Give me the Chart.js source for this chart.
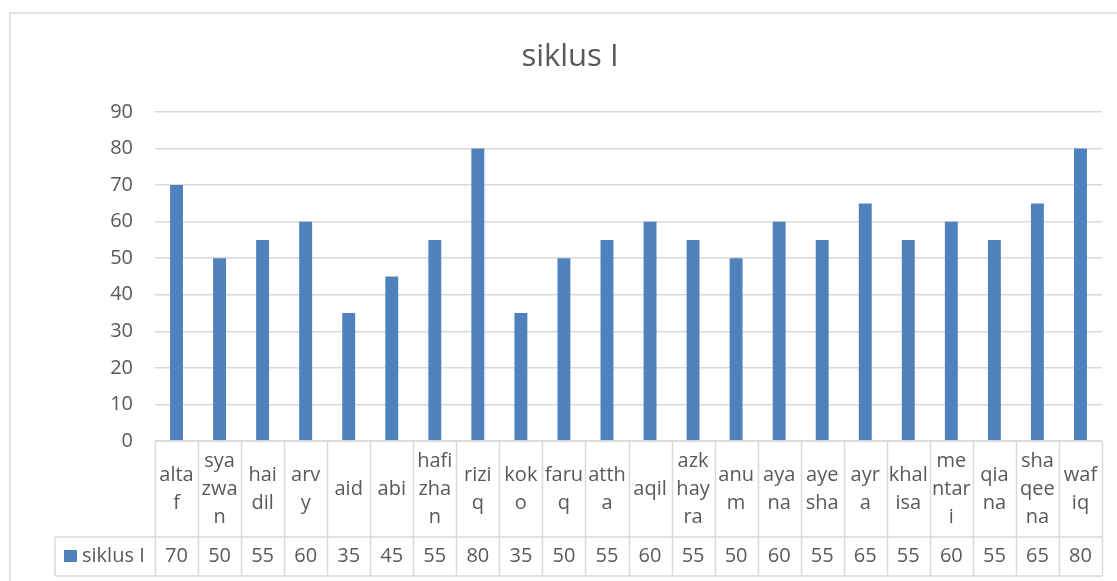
<!DOCTYPE html>
<html>
<head>
<meta charset="utf-8">
<script src="https://cdn.jsdelivr.net/npm/chart.js@4/dist/chart.umd.min.js"></script>
<style>
  html, body { margin: 0; padding: 0; background: #fff; }
  #wrap { width: 1117px; height: 581px; position: relative; }
</style>
</head>
<body>
<div id="wrap"><canvas id="chart"></canvas></div>
<script>
// Data
const names = ['altaf', 'syazwan', 'haidil', 'arvy', 'aid', 'abi', 'hafizhan', 'riziq', 'koko', 'faruq', 'attha',
    'aqil', 'azkhayra', 'anum', 'ayana', 'ayesha', 'ayra', 'khalisa', 'mentari', 'qiana', 'shaqeena', 'wafiq'];
// category labels as wrapped in the data table
const labelLines = [['alta', 'f'], ['sya', 'zwa', 'n'], ['hai', 'dil'], ['arv', 'y'], ['aid'], ['abi'], ['hafi', 'zha', 'n'],
    ['rizi', 'q'], ['kok', 'o'], ['faru', 'q'], ['atth', 'a'], ['aqil'], ['azk', 'hay', 'ra'], ['anu', 'm'], ['aya', 'na'],
    ['aye', 'sha'], ['ayr', 'a'], ['khal', 'isa'], ['me', 'ntar', 'i'], ['qia', 'na'], ['sha', 'qee', 'na'], ['waf', 'iq']];
const seriesName = 'siklus I';
const values = [70, 50, 55, 60, 35, 45, 55, 80, 35, 50, 55, 60, 55, 50, 60, 55, 65, 55, 60, 55, 65, 80];
const yTicks = [0, 10, 20, 30, 40, 50, 60, 70, 80, 90];

const FONT = "'Open Sans', sans-serif";
const TEXT = '#595959';
const LINE = '#d9d9d9';
const BAR = '#4f81bd';

// Draws the chart frame, title and the data table under the plot
const tablePlugin = {
    id: 'dataTable',
    afterDraw(chart) {
        const ctx = chart.ctx;
        const x = chart.scales.x;
        const area = chart.chartArea;
        const n = names.length;
        const step = (x.right - x.left) / n;
        const top = area.bottom;
        const mid = 537;
        const bottom = 576;
        const legendLeft = 55;

        ctx.save();
        // outer chart frame
        ctx.strokeStyle = LINE;
        ctx.lineWidth = 1.5;
        ctx.beginPath();
        ctx.moveTo(10, 600);
        ctx.lineTo(10, 13);
        ctx.lineTo(1200, 13);
        ctx.stroke();

        // title
        ctx.fillStyle = TEXT;
        ctx.font = '31px ' + FONT;
        ctx.textAlign = 'center';
        ctx.textBaseline = 'middle';
        ctx.fillText(seriesName, 570, 57);

        // table grid
        ctx.lineWidth = 1.5;
        ctx.strokeStyle = LINE;
        ctx.beginPath();
        ctx.moveTo(x.left, top); ctx.lineTo(x.right, top);
        ctx.moveTo(legendLeft, mid); ctx.lineTo(x.right, mid);
        ctx.moveTo(legendLeft, bottom); ctx.lineTo(x.right, bottom);
        ctx.moveTo(legendLeft, mid); ctx.lineTo(legendLeft, bottom);
        for (let i = 0; i <= n; i++) {
            const bx = Math.round(x.left + i * step) + 0.5;
            ctx.moveTo(bx, top); ctx.lineTo(bx, bottom);
        }
        ctx.stroke();

        // header labels and values
        ctx.font = '20px ' + FONT;
        ctx.fillStyle = TEXT;
        const lh = 28;
        for (let i = 0; i < n; i++) {
            const cx = x.getPixelForValue(i);
            const lines = labelLines[i];
            const y0 = (top + mid) / 2 - (lines.length - 1) * lh / 2;
            lines.forEach(function(t, j) {
                ctx.fillText(t, cx, y0 + j * lh);
            });
            ctx.fillText(String(values[i]), cx, (mid + bottom) / 2);
        }

        // legend key in the table
        ctx.fillStyle = BAR;
        ctx.fillRect(64, 550, 13, 12);
        ctx.fillStyle = TEXT;
        ctx.textAlign = 'left';
        ctx.fillText(seriesName, 82, (mid + bottom) / 2);
        ctx.restore();
    }
};

new Chart(document.getElementById('chart'), {
    type: 'bar',
    data: {
        labels: names,
        datasets: [{
            label: seriesName,
            data: values,
            backgroundColor: BAR,
            borderWidth: 0,
            barPercentage: 0.6,
            categoryPercentage: 0.5
        }]
    },
    options: {
        responsive: true,
        maintainAspectRatio: false,
        animation: false,
        layout: { padding: { top: 112, bottom: 140, right: 15, left: 0 } },
        plugins: {
            legend: { display: false },
            title: { display: false },
            tooltip: { enabled: false }
        },
        scales: {
            x: {
                display: false
            },
            y: {
                min: 0,
                max: 90,
                afterFit: function(scale) { scale.width = 155; },
                afterBuildTicks: function(scale) {
                    scale.ticks = yTicks.map(function(v) { return { value: v }; });
                },
                border: { display: false },
                grid: { color: LINE, lineWidth: 1.5, drawTicks: false },
                ticks: {
                    padding: 22,
                    color: TEXT,
                    font: { family: FONT, size: 20 }
                }
            }
        }
    },
    plugins: [tablePlugin]
});
</script>
</body>
</html>
